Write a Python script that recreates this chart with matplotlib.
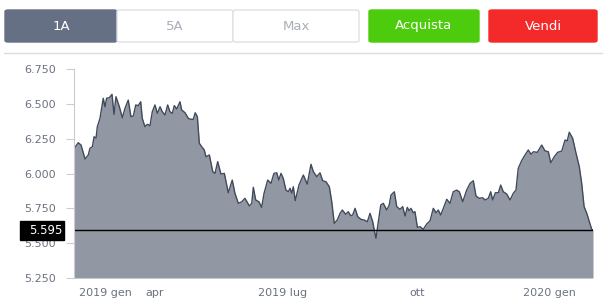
import matplotlib
matplotlib.use("Agg")
import matplotlib.pyplot as plt
from matplotlib.patches import FancyBboxPatch, Rectangle
from matplotlib.lines import Line2D

# giorni dall'inizio del periodo (1A) e prezzo di chiusura
giorni = [0, 3, 5, 7.8, 10.1, 11.3, 13, 14.2, 15.6, 16.5, 18.4, 20.7, 21.9, 23.1, 25, 26.9,
          28.3, 29.7, 32.1, 34.2, 36.1, 38.4, 40.3, 42, 43.7, 45.5, 47.2, 48.3, 50.2, 51.9,
          53.8, 55.4, 57.3, 59, 60.9, 62.5, 64.4, 66.3, 67.9, 69.6, 71, 72.7, 75, 76.2, 78.6,
          80.9, 82.6, 84.4, 85.8, 87.3, 88.7, 90.4, 92.2, 93.4, 95.8, 98.2, 99.8, 101.7, 104,
          106.4, 109.2, 112, 113.9, 116.3, 118.7, 121, 124.1, 125.8, 126.9, 128.6, 130.9,
          132.8, 134.5, 137.1, 139.4, 141.5, 143.5, 144.9, 146.5, 148.1, 150, 151.7, 152.9,
          154.1, 155.2, 156.6, 159.2, 162.3, 165.1, 167.7, 169.4, 171.8, 174.1, 176, 178.3,
          180.7, 182.4, 184.2, 186.3, 188.3, 189.9, 192.3, 194.1, 195.8, 197.2, 198.9, 200.8,
          203.1, 205.4, 207.6, 209.5, 211.4, 212.5, 213.7, 215.4, 217.1, 218.9, 221.3, 223.1,
          224.3, 226.7, 228.4, 230.7, 232.6, 234.3, 235.9, 237.1, 238.5, 240.1, 241.3, 243,
          244.9, 247.2, 249.6, 252, 254.3, 256.2, 257.8, 259.5, 261.4, 263.8, 266.1, 268.4,
          270.8, 272.7, 275.1, 277.9, 280.3, 282.6, 284.5, 286.8, 289.2, 290.9, 293.2, 294.9,
          296.3, 298.2, 300.3, 302, 303.8, 306.2, 308.6, 310.9, 312.8, 314.4, 316.8, 319.2,
          321.5, 323.4, 325.1, 327.9, 331, 333.3, 335.7, 337.4, 339.9, 342.3, 345.2, 347.5,
          349.1, 350.5, 352.9, 355.3, 357.6, 359.3, 361, 362.9, 364.7, 366.4, 367.3]
prezzi = [6.178, 6.221, 6.204, 6.104, 6.133, 6.181, 6.192, 6.264, 6.253, 6.336, 6.396, 6.540,
          6.479, 6.540, 6.544, 6.568, 6.425, 6.551, 6.479, 6.400, 6.468, 6.527, 6.408, 6.413,
          6.492, 6.487, 6.515, 6.396, 6.336, 6.353, 6.343, 6.443, 6.492, 6.432, 6.479, 6.443,
          6.420, 6.492, 6.443, 6.432, 6.487, 6.463, 6.515, 6.456, 6.436, 6.396, 6.389, 6.389,
          6.436, 6.408, 6.217, 6.192, 6.169, 6.120, 6.133, 6.013, 6.001, 6.085, 5.996, 6.001,
          5.862, 5.953, 5.858, 5.786, 5.797, 5.822, 5.767, 5.786, 5.901, 5.810, 5.797, 5.757,
          5.858, 5.953, 5.929, 6.001, 6.005, 5.953, 6.001, 5.965, 5.881, 5.869, 5.894, 5.858,
          5.905, 5.805, 5.917, 5.989, 5.924, 6.066, 6.013, 5.977, 6.005, 5.948, 5.941, 5.905,
          5.797, 5.642, 5.666, 5.714, 5.738, 5.707, 5.726, 5.697, 5.702, 5.750, 5.690, 5.671,
          5.666, 5.654, 5.714, 5.654, 5.594, 5.535, 5.654, 5.774, 5.786, 5.738, 5.774, 5.845,
          5.869, 5.762, 5.743, 5.762, 5.695, 5.757, 5.733, 5.750, 5.718, 5.726, 5.614, 5.618,
          5.599, 5.637, 5.661, 5.750, 5.718, 5.738, 5.702, 5.750, 5.815, 5.786, 5.869, 5.881,
          5.869, 5.797, 5.881, 5.929, 5.948, 5.838, 5.822, 5.826, 5.810, 5.822, 5.869, 5.810,
          5.862, 5.862, 5.917, 5.869, 5.853, 5.810, 5.858, 5.881, 6.037, 6.092, 6.133, 6.169,
          6.138, 6.156, 6.152, 6.204, 6.163, 6.156, 6.077, 6.120, 6.152, 6.161, 6.240, 6.235,
          6.296, 6.253, 6.145, 6.049, 5.929, 5.762, 5.714, 5.654, 5.599, 5.595]

ultimo = 5.595
yticks = [5.25, 5.5, 5.75, 6.0, 6.25, 6.5, 6.75]
ytick_labels = ["5.250", "5.500", "5.750", "6.000", "6.250", "6.500", "6.750"]
xticks = [21.9, 57.3, 147.9, 242.7, 336.2]
xtick_labels = ["2019 gen", "apr", "2019 lug", "ott", "2020 gen"]

W, H = 606, 303
fig = plt.figure(figsize=(W / 100, H / 100), dpi=100)
ax = fig.add_axes([74 / W, 25 / H, 519 / W, 209 / H])

ax.fill_between(giorni, prezzi, 5.25, color="#9198a4", lw=0)
ax.plot(giorni, prezzi, color="#414a5a", lw=1.0)
ax.axhline(ultimo, color="black", lw=1)

ax.set_xlim(0, giorni[-1])
ax.set_ylim(5.25, 6.75)
ax.set_yticks(yticks)
ax.set_yticklabels(ytick_labels)
ax.set_xticks(xticks)
ax.set_xticklabels(xtick_labels)
ax.tick_params(axis="y", length=6, color="#cccccc", labelcolor="#6b7280", labelsize=8, pad=7)
ax.tick_params(axis="x", length=0, labelcolor="#6b7280", labelsize=8, pad=7)
for s in ["top", "right", "bottom"]:
    ax.spines[s].set_visible(False)
ax.spines["left"].set_color("#cccccc")

# etichetta ultimo prezzo
fig.patches.append(Rectangle((20 / W, (H - 240) / H), 44 / W, 19 / H,
                             transform=fig.transFigure, color="black"))
fig.text(62 / W, (H - 230.5) / H, "5.595", color="white", fontsize=8.5,
         ha="right", va="center")

# pulsanti in alto
def pulsante(x0, x1, testo, fc, tc, ec):
    fig.patches.append(FancyBboxPatch((x0 / W, (H - 42) / H), (x1 - x0) / W, 32 / H,
                                      boxstyle="round,pad=0,rounding_size=0.005",
                                      transform=fig.transFigure, fc=fc, ec=ec, lw=1))
    fig.text((x0 + x1) / 2 / W, (H - 26) / H, testo, color=tc, fontsize=9.5,
             ha="center", va="center")

pulsante(5, 117, "1A", "#667085", "white", "#667085")
pulsante(117, 233, "5A", "white", "#a9aeb8", "#dde0e5")
pulsante(233, 359, "Max", "white", "#a9aeb8", "#dde0e5")
pulsante(369, 479, "Acquista", "#4ccc0c", "white", "#4ccc0c")
pulsante(489, 597, "Vendi", "#f42a2a", "white", "#f42a2a")

fig.lines.append(Line2D([4 / W, 602 / W], [(H - 53) / H] * 2, transform=fig.transFigure,
                        color="#dcdcdc", lw=1))

fig.savefig("out.png", dpi=100)
